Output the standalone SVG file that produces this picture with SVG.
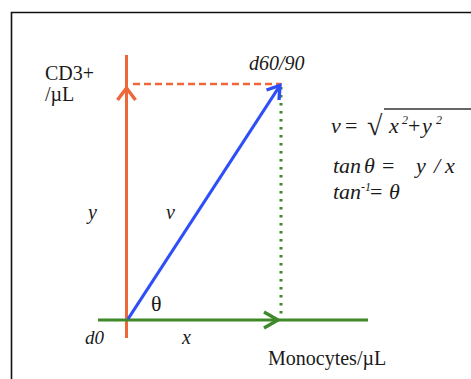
<svg xmlns="http://www.w3.org/2000/svg" width="471" height="379" viewBox="0 0 471 379">
<rect width="471" height="379" fill="#fff"/>
<path d="M11.5,390 V12.5 H480" fill="none" stroke="#111" stroke-width="1.6"/>
<g id="connectors" fill="none" stroke-linecap="butt">
<line x1="126.5" y1="55" x2="126.5" y2="338" stroke="#ED6738" stroke-width="3"/>
<polyline points="117.5,100 126.5,88 135.5,100" stroke="#ED6738" stroke-width="3.4" stroke-linejoin="miter"/>
<line x1="133" y1="84" x2="281" y2="84" stroke="#ED6738" stroke-width="2.5" stroke-dasharray="7,4"/>
<line x1="98" y1="320" x2="368" y2="320" stroke="#3E8A2A" stroke-width="3.2"/>
<polyline points="264,312 278,320 264,328" stroke="#3E8A2A" stroke-width="3.4"/>
<line x1="281" y1="87" x2="281" y2="314" stroke="#3E8A2A" stroke-width="3" stroke-dasharray="2.5,5.5"/>
<line x1="128" y1="319" x2="279" y2="87" stroke="#2E4EF8" stroke-width="3.2"/>
<polyline points="266.5,90 280,85.5 279,100" stroke="#2E4EF8" stroke-width="3.4"/>
</g>
<g font-family="'Liberation Serif', 'Times New Roman', serif" fill="#1a1a1a">
<g id="yaxis-label" font-size="20"><text x="45" y="80">CD3+</text><text x="45" y="101">/µL</text></g>
<g id="d60"><text font-style="italic" x="249" y="70" font-size="20">d60/90</text></g>
<g id="y-label"><text font-style="italic" x="88" y="219" font-size="20">y</text></g>
<g id="v-label"><text font-style="italic" x="166" y="219" font-size="20">v</text></g>
<g id="theta"><text x="151" y="311" font-size="22">θ</text></g>
<g id="d0"><text font-style="italic" x="85" y="344" font-size="19">d0</text></g>
<g id="x-label"><text font-style="italic" x="182" y="344" font-size="20">x</text></g>
<g id="xaxis-label"><text x="268" y="365" font-size="20">Monocytes/µL</text></g>
<g id="formula" font-size="22" font-style="italic">
<text x="331" y="133">v</text>
<text x="345" y="133" font-style="normal">=</text>
<text x="367" y="135" font-style="normal" font-size="28">√</text>
<line x1="384" y1="109" x2="471" y2="109" stroke="#333" stroke-width="1.5"/>
<text x="389" y="133">x</text>
<text x="402" y="124" font-size="12">2</text>
<text x="408" y="133" font-style="normal">+</text>
<text x="422" y="133">y</text>
<text x="436" y="124" font-size="12">2</text>
<text x="333" y="173">tan</text>
<text x="364" y="173">θ</text>
<text x="382" y="173" font-style="normal">=</text>
<text x="416" y="173">y</text>
<text x="434" y="173">/</text>
<text x="445" y="173">x</text>
<text x="333" y="199">tan</text>
<text x="361" y="191" font-size="12">-1</text>
<text x="370" y="199" font-style="normal">=</text>
<text x="389" y="199">θ</text>
</g>
</g>
</svg>
